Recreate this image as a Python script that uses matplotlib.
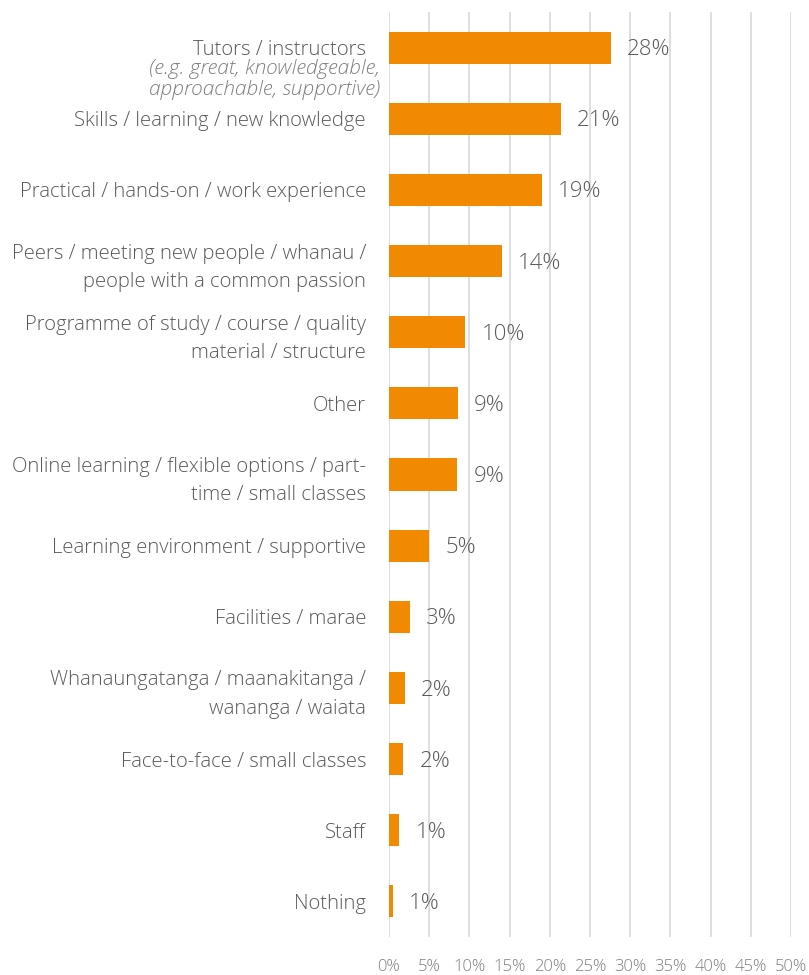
import matplotlib
matplotlib.use("Agg")
import matplotlib.pyplot as plt
from matplotlib import font_manager

categories = [
    "Tutors / instructors",
    "Skills / learning / new knowledge",
    "Practical / hands-on / work experience",
    "Peers / meeting new people / whanau /\npeople with a common passion",
    "Programme of study / course / quality\nmaterial / structure",
    "Other",
    "Online learning / flexible options / part-\ntime / small classes",
    "Learning environment / supportive",
    "Facilities / marae",
    "Whanaungatanga / maanakitanga /\nwananga / waiata",
    "Face-to-face / small classes",
    "Staff",
    "Nothing",
]
values = [27.6, 21.4, 19.0, 14.0, 9.5, 8.6, 8.5, 5.0, 2.6, 2.0, 1.8, 1.3, 0.5]
value_labels = ["28%", "21%", "19%", "14%", "10%", "9%", "9%", "5%", "3%", "2%", "2%", "1%", "1%"]
tutor_note = ["(e.g. great, knowledgeable,", "approachable, supportive)"]
xticks = [0, 5, 10, 15, 20, 25, 30, 35, 40, 45, 50]
xtick_labels = [f"{t}%" for t in xticks]

names = {f.name for f in font_manager.fontManager.ttflist}
family = "Open Sans" if "Open Sans" in names else "DejaVu Sans"
plt.rcParams["font.family"] = [family, "DejaVu Sans"]

fig = plt.figure(figsize=(8.09, 9.75), dpi=100)
ax = fig.add_axes([389/809, 1-937/975, (791-389)/809, (937-12)/975])

n = len(categories)
y = list(range(n))
ax.barh(y, values, height=0.45, color="#F18A00", zorder=3)
ax.set_ylim(n - 0.5, -0.5)
ax.set_xlim(0, 50)

ax.set_xticks(xticks)
ax.set_xticklabels(xtick_labels, fontsize=12, color="#7F7F7F", fontweight="light")
ax.xaxis.grid(True, color="#D9D9D9", linewidth=1.2, zorder=0)
ax.tick_params(axis="x", length=0, pad=16)

ax.set_yticks(y)
ax.set_yticklabels(categories, fontsize=14.6, color="#595959", fontweight="light", linespacing=1.55)
ax.tick_params(axis="y", length=0, pad=16.5)

for s in ax.spines.values():
    s.set_visible(False)

for yi, v, lab in zip(y, values, value_labels):
    ax.annotate(lab, (v, yi), xytext=(11.5, -1.5), textcoords="offset points",
                va="center", ha="left", fontsize=16, color="#595959", fontweight="light")

for k, line in enumerate(tutor_note):
    ax.annotate(line, (0, 0), xytext=(-6.5, -15.3 * (k + 1)), textcoords="offset points",
                va="center", ha="right", fontsize=15, color="#7F7F7F",
                style="italic", fontweight="light", annotation_clip=False)

fig.savefig("out.png", dpi=100, facecolor="white")
